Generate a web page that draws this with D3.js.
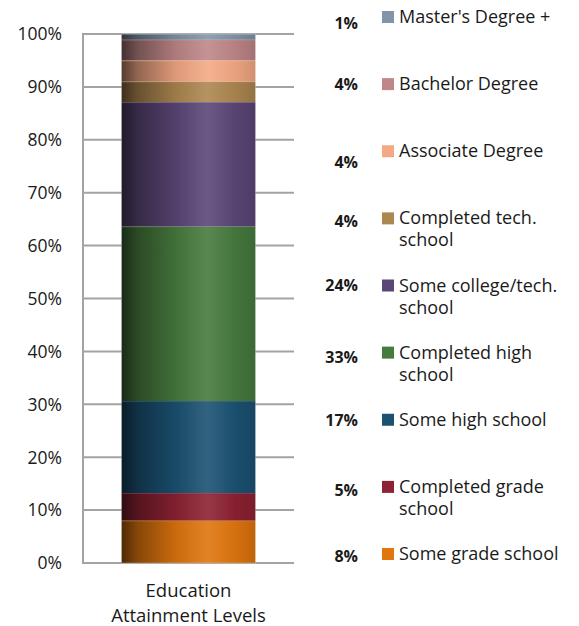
<!DOCTYPE html>
<html><head><meta charset="utf-8">
<script src="https://cdn.jsdelivr.net/npm/d3@7"></script>
<style>
body{margin:0;background:#fff;}
text{font-family:"Open Sans",sans-serif;}
</style></head>
<body><svg id="c" width="579" height="626"></svg>
<script>
// Data (bottom to top)
const categories = ["Some grade school","Completed grade school","Some high school","Completed high school","Some college/tech. school","Completed tech. school","Associate Degree","Bachelor Degree","Master's Degree +"];
const values = [8.0, 5.2, 17.4, 33.0, 23.5, 3.9, 4.0, 3.9, 1.1];
const valueLabels = ["8%","5%","17%","33%","24%","4%","4%","4%","1%"];
const legendLines = [["Some grade school"],["Completed grade","school"],["Some high school"],["Completed high","school"],["Some college/tech.","school"],["Completed tech.","school"],["Associate Degree"],["Bachelor Degree"],["Master's Degree +"]];
const colors = ["#df760e","#8d2233","#1b5273","#477b3e","#5c4677","#ad8750","#f4a985","#bf8789","#8295a8"];
const labelYOffsets = [2, 3, 0, 5, 0, 3, 11, 0, 6]; // label offset from legend row
const yTicks = [0,10,20,30,40,50,60,70,80,90,100];
const tickLabels = yTicks.map(d => d + "%");
const xCategory = ["Education","Attainment Levels"];

const svg = d3.select("#c");
const defs = svg.append("defs");
const y = d3.scaleLinear().domain([0,100]).range([563,34]);
const x = d3.scaleBand().domain(["Education Attainment Levels"]).range([83,294]).paddingInner(0).paddingOuter(0.287);

// gridlines
svg.append("g").selectAll("line").data(yTicks).join("line")
  .attr("x1",83).attr("x2",294).attr("y1",d=>y(d)).attr("y2",d=>y(d))
  .attr("stroke","#a3a3a3").attr("stroke-width",2);
svg.append("line").attr("x1",83).attr("x2",83).attr("y1",y(100)-1).attr("y2",y(0)+1)
  .attr("stroke","#a3a3a3").attr("stroke-width",2);

// y tick labels
svg.append("g").selectAll("text").data(yTicks).join("text")
  .attr("x",62).attr("y",d=>y(d)).attr("dy","0.36em").attr("text-anchor","end")
  .attr("font-size",17.5).attr("fill","#1a1a1a").text((d,i)=>tickLabels[i]);

// stacked data
let acc = 0;
const segs = values.map((v,i)=>{const s={i,y0:acc,y1:acc+v,c:colors[i]}; acc+=v; return s;});

segs.forEach(s=>{
  const base = d3.rgb(s.c);
  const g = defs.append("linearGradient").attr("id","g"+s.i).attr("x1","0").attr("x2","1").attr("y1","0").attr("y2","0");
  const stops = [[0,0.35],[0.12,0.6],[0.4,0.9],[0.64,1.1],[0.85,0.95],[1,0.85]];
  stops.forEach(([o,k])=>{
    const c = k<=1 ? d3.rgb(base.r*k,base.g*k,base.b*k) : d3.rgb(base.r+(255-base.r)*(k-1),base.g+(255-base.g)*(k-1),base.b+(255-base.b)*(k-1));
    g.append("stop").attr("offset",o).attr("stop-color",c.formatHex());
  });
});

const bx = x("Education Attainment Levels"), bw = x.bandwidth();
svg.append("g").selectAll("rect").data(segs).join("rect")
  .attr("x",bx).attr("width",bw)
  .attr("y",d=>y(d.y1)).attr("height",d=>y(d.y0)-y(d.y1))
  .attr("fill",d=>"url(#g"+d.i+")");
svg.append("g").selectAll("line").data(segs).join("line")
  .attr("x1",bx).attr("x2",bx+bw).attr("y1",d=>y(d.y1)+0.5).attr("y2",d=>y(d.y1)+0.5)
  .attr("stroke",d=>d3.rgb(d.c).brighter(0.3)).attr("stroke-opacity",0.3);
svg.append("rect").attr("x",bx).attr("y",y(100)).attr("width",bw).attr("height",y(0)-y(100))
  .attr("fill","none").attr("stroke","#fff").attr("stroke-opacity",0.25);

// x category label
svg.append("text").attr("x",bx+bw/2).attr("y",597).attr("text-anchor","middle").attr("font-size",18.5).attr("fill","#1a1a1a")
  .selectAll("tspan").data(xCategory).join("tspan").attr("x",bx+bw/2).attr("dy",(d,i)=>i?25:0).text(d=>d);

// legend: evenly spaced rows, top = last series
const ly = d3.scaleLinear().domain([categories.length-1,0]).range([17,554]);
const leg = svg.append("g");
categories.forEach((c,i)=>{
  const yy = ly(i);
  leg.append("rect").attr("x",382).attr("y",yy-6).attr("width",12).attr("height",12).attr("fill",colors[i]);
  const t = leg.append("text").attr("x",399).attr("y",yy).attr("font-size",18).attr("fill","#1a1a1a");
  legendLines[i].forEach((l,j)=>t.append("tspan").attr("x",399).attr("dy",j?22:"0.34em").text(l));
  leg.append("text").attr("x",358).attr("y",yy+labelYOffsets[i]).attr("dy","0.36em").attr("text-anchor","end")
    .attr("font-size",16).attr("font-weight","bold").attr("fill","#1a1a1a").text(valueLabels[i]);
});
</script></body></html>
